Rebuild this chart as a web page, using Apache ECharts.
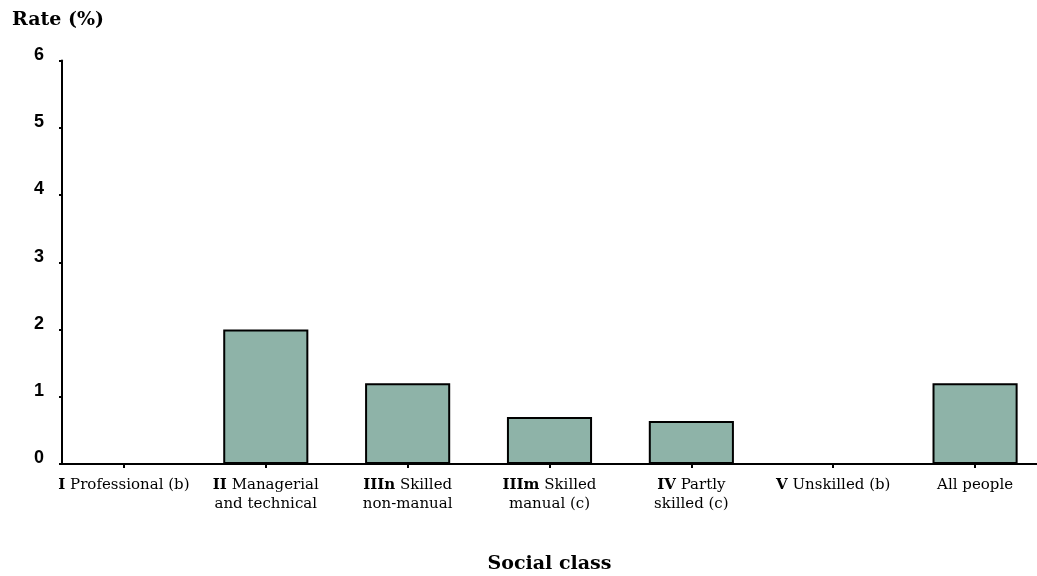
<!DOCTYPE html>
<html>
<head>
<meta charset="utf-8">
<script src="https://cdn.jsdelivr.net/npm/echarts@6/dist/echarts.min.js"></script>
<style>
  html, body { margin: 0; padding: 0; background: #ffffff; }
  #chart { width: 1037px; height: 576px; }
</style>
</head>
<body>
<div id="chart"></div>
<script>
// Social class codes (drawn bold) and descriptions
const classCodes = ['I', 'II', 'IIIn', 'IIIm', 'IV', 'V', ''];
const classNames = [
  'Professional (b)',
  'Managerial\nand technical',
  'Skilled\nnon-manual',
  'Skilled\nmanual (c)',
  'Partly\nskilled (c)',
  'Unskilled (b)',
  'All people'
];
// Rate (%) by social class; null where no estimate is shown
const rates = [null, 2.0, 1.2, 0.7, 0.64, null, 1.2];
const yTicks = [0, 1, 2, 3, 4, 5, 6];

const categories = classCodes.map((c, i) => c + '|' + classNames[i]);

const serif = "'DejaVu Serif', 'Liberation Serif', serif";
const sans = "'Liberation Sans', Arial, sans-serif";

const chart = echarts.init(document.getElementById('chart'), null, { renderer: 'canvas' });

const plotTop = 60.5;
const plotHeight = 403.5;
const labelSize = 15;

chart.setOption({
  animation: false,
  backgroundColor: '#ffffff',
  title: {
    text: 'Rate (%)',
    left: 7,
    top: 6,
    textStyle: { fontFamily: serif, fontWeight: 'bold', fontSize: 19, color: '#000' }
  },
  grid: [
    // frame: axis lines and the value scale
    { left: 62, right: 0, top: plotTop, height: plotHeight, outerBoundsMode: 'none' },
    // bars and category labels
    { left: 53, width: 993, top: plotTop, height: plotHeight, outerBoundsMode: 'none' }
  ],
  xAxis: [
    {
      type: 'category',
      gridIndex: 0,
      data: categories,
      axisLine: { show: true, lineStyle: { color: '#000', width: 2 } },
      axisTick: { show: false },
      axisLabel: { show: false }
    },
    {
      type: 'category',
      gridIndex: 1,
      data: categories,
      axisLine: { show: false },
      axisTick: { show: true, alignWithLabel: true, length: 4, lineStyle: { color: '#000', width: 2 } },
      axisLabel: {
        margin: 12,
        interval: 0,
        color: '#000',
        fontFamily: serif,
        fontSize: labelSize,
        lineHeight: 19,
        formatter: function (v) {
          const parts = v.split('|');
          const lines = parts[1].split('\n');
          const first = parts[0] ? '{b|' + parts[0] + '} {n|' + lines[0] + '}' : '{n|' + lines[0] + '}';
          return [first].concat(lines.slice(1).map(l => '{n|' + l + '}')).join('\n');
        },
        rich: {
          b: { fontFamily: serif, fontWeight: 'bold', fontSize: labelSize, color: '#000', lineHeight: 19 },
          n: { fontFamily: serif, fontSize: labelSize, color: '#000', lineHeight: 19 }
        }
      },
      name: 'Social class',
      nameLocation: 'middle',
      nameGap: 91,
      nameTextStyle: { fontFamily: serif, fontWeight: 'bold', fontSize: 19, color: '#000' }
    }
  ],
  yAxis: [
    {
      type: 'value',
      gridIndex: 0,
      min: yTicks[0],
      max: yTicks[yTicks.length - 1],
      interval: 1,
      splitLine: { show: false },
      axisLine: { show: true, lineStyle: { color: '#000', width: 2 } },
      axisTick: { show: true, length: 3, lineStyle: { color: '#000', width: 2 } },
      axisLabel: {
        margin: 18,
        color: '#000',
        fontFamily: sans,
        fontWeight: 'bold',
        fontSize: 18,
        verticalAlign: 'bottom',
        lineHeight: 11
      }
    },
    {
      type: 'value',
      gridIndex: 1,
      min: yTicks[0],
      max: yTicks[yTicks.length - 1],
      interval: 1,
      show: false
    }
  ],
  series: [
    {
      type: 'bar',
      xAxisIndex: 1,
      yAxisIndex: 1,
      data: rates,
      barWidth: '60%',
      itemStyle: { color: '#8eb3a8', borderColor: '#000', borderWidth: 2 }
    }
  ]
});
</script>
</body>
</html>
